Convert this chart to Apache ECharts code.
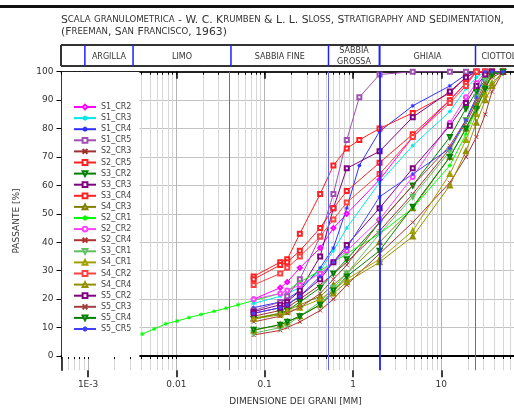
<!DOCTYPE html>
<html>
<head>
<meta charset="utf-8">
<script src="https://cdn.jsdelivr.net/npm/echarts@6/dist/echarts.min.js"></script>
<style>
html, body { margin: 0; padding: 0; background: #fff; }
#chart { width: 514px; height: 411px; }
</style>
</head>
<body>
<div id="chart"></div>
<script>
// aperture dei setacci (mm)
const sieveMm = [0.075, 0.15, 0.18, 0.25, 0.425, 0.6, 0.85, 1.18, 2, 4.75, 12.5, 19, 25, 31.5, 37.5, 50];
// sedimentazione S2_CR1 (mm / %)
const hydroMm = [0.0041, 0.0056, 0.0076, 0.0102, 0.0139, 0.019, 0.0267, 0.0365, 0.05];
const hydroS2CR1 = [7.7, 9.5, 11.3, 12.3, 13.5, 14.6, 15.7, 16.8, 18.0];

// passante [%] per setaccio
const S1_CR2 = [20, 24, 26, 31, 38, 45, 50, null, 62, 77, 90, 96, 100, 100, 100, 100];
const S1_CR3 = [18.5, 21, 22, 24, 30, 37, 45, null, 61, 74, 86, 94, 98, 100, 100, 100];
const S1_CR4 = [17, 19, 20, 23, 31, 38, 52, 67, 79, 88, 95, 99, 100, 100, 100, 100];
const S1_CR5 = [16, 19, 21, 27, 42, 57, 76, 91, 99, 100, 100, 100, 100, 100, 100, 100];
const S2_CR3 = [14, 16, 17, 20, 25, 29, 33, null, 44, 57, 73, 82, 89, 95, 98, 100];
const S2_CR5 = [28, 33, 34, 43, 57, 67, 73, 76, 80, 85.5, 92.5, 98, 100, 100, 100, 100];
const S3_CR2 = [13, 15, 16, 19, 24, 29, 34, null, 47, 60, 77, 87, 93, 97, 100, 100];
const S3_CR3 = [15.6, 18, 19, 23, 35, 52, 66, null, 72, 84, 93, 98, 100, 100, 100, 100];
const S3_CR4 = [27, 32, 33, 37, 45, 52, 58, null, 68, 78, 90, 96, 100, 100, 100, 100];
const S4_CR3 = [13.3, 15, 16, 18, 21, 25, 29, null, 40, 52, 70, 80, 88, 95, 99, 100];
const S2_CR1 = [19.5, 22, 23, 26, 30, 33, 36, null, 43, 52, 67, 78, 87, 94, 99, 100];
const S2_CR2 = [20, 22, 23, 25, 29, 33, 37, null, 48, 63, 82, 91, 96, 100, 100, 100];
const S2_CR4 = [7.4, 9, 10, 12, 16, 20, 25, null, 36, 47, 61, 70, 77, 85, 93, 100];
const S3_CR1 = [8, 10, 11, 14, 19, 24, 29, null, 43, 56, 72, 83, 91, 97, 100, 100];
const S4_CR1 = [13, 14.5, 15.5, 17, 20, 23, 27, null, 34, 44, 64, 76, 85, 92, 96, 100];
const S4_CR2 = [25, 29, 31, 35, 42, 48, 54, null, 64, 77, 89, 95, 100, 100, 100, 100];
const S4_CR4 = [9, 11, 12, 14, 18, 22, 26, null, 33, 42, 60, 72, 82, 90, 95, 100];
const S5_CR2 = [15, 17, 18, 21, 27, 33, 39, null, 52, 66, 81, 89, 95, 99, 100, 100];
const S5_CR3 = [12, 14, 15, 17, 22, 27, 32, null, 47, 60, 74, 83, 90, 96, 100, 100];
const S5_CR4 = [9.2, 11, 12, 14, 18, 23, 28, null, 37, 52.5, 70, 80, 87, 94, 99, 100];
const S5_CR5 = [15, 17, 18, 21, 28, 33, 38, null, 56, 64, 73, 83, 91, 100, 100, 100];

const seriesNames = ['S1_CR2', 'S1_CR3', 'S1_CR4', 'S1_CR5', 'S2_CR3', 'S2_CR5', 'S3_CR2', 'S3_CR3',
  'S3_CR4', 'S4_CR3', 'S2_CR1', 'S2_CR2', 'S2_CR4', 'S3_CR1', 'S4_CR1', 'S4_CR2', 'S4_CR4',
  'S5_CR2', 'S5_CR3', 'S5_CR4', 'S5_CR5'];
const seriesValues = [S1_CR2, S1_CR3, S1_CR4, S1_CR5, S2_CR3, S2_CR5, S3_CR2, S3_CR3,
  S3_CR4, S4_CR3, S2_CR1, S2_CR2, S2_CR4, S3_CR1, S4_CR1, S4_CR2, S4_CR4,
  S5_CR2, S5_CR3, S5_CR4, S5_CR5];

// classi granulometriche (limiti in mm)
const classLimitsMm = [0.00092, 0.00323, 0.0415, 0.528, 2, 24.4];
const classNames = ['ARGILLA', 'LIMO', 'SABBIA FINE', 'SABBIA\nGROSSA', 'GHIAIA', 'CIOTTOLI'];

const xTickValues = [0.001, 0.01, 0.1, 1, 10, 100];
const xTickLabels = ['1E-3', '0.01', '0.1', '1', '10', '100'];
const yTickValues = [0, 10, 20, 30, 40, 50, 60, 70, 80, 90, 100];

// stili
const AST = 'path://M5,0L5,10M0,5L10,5M1.5,1.5L8.5,8.5M8.5,1.5L1.5,8.5';
const CROSS = 'path://M0,0L10,10M10,0L0,10';
const seriesColors = ['#ff00ff', '#00e8e8', '#3030ff', '#a050b0', '#a03030', '#ff2020', '#008000', '#800080',
  '#ff2020', '#808000', '#00ff00', '#ff40ff', '#b03030', '#60c060', '#a0a000', '#ff4040', '#909000',
  '#800080', '#a04040', '#008000', '#4040ff'];
const seriesSymbols = ['emptyDiamond', AST, AST, 'emptyRect', CROSS, 'emptyRect', 'emptyTriangle', 'emptyRect',
  'emptyRect', 'emptyTriangle', AST, 'emptyCircle', CROSS, 'emptyTriangle', 'emptyTriangle', 'emptyRect', 'emptyTriangle',
  'emptyRect', CROSS, 'emptyTriangle', AST];
const seriesRotate = [0, 0, 0, 0, 0, 0, 180, 0, 0, 0, 0, 0, 0, 180, 0, 0, 0, 0, 0, 180, 0];

const FONT = 'DejaVu Sans';

// tacche minori della scala logaritmica
const minorTicks = [];
for (let e = -4; e <= 2; e++) {
  for (let m = 1; m <= 9; m++) {
    const v = +(m * Math.pow(10, e)).toPrecision(6);
    if (v >= 0.0005 && v <= 100) minorTicks.push(v);
  }
}

const chart = echarts.init(document.getElementById('chart'));

const series = seriesNames.map((name, i) => {
  let data = sieveMm.map((d, j) => [d, seriesValues[i][j]]);
  if (name === 'S2_CR1') {
    data = hydroMm.map((d, j) => [d, hydroS2CR1[j]]).concat(data);
  }
  return {
    name: name,
    type: 'line',
    data: data,
    connectNulls: true,
    symbol: seriesSymbols[i],
    symbolRotate: seriesRotate[i],
    symbolSize: 4,
    lineStyle: { width: 1, color: seriesColors[i] },
    itemStyle: { color: seriesColors[i], borderColor: seriesColors[i], borderWidth: 1 },
    emphasis: { disabled: true },
    z: 3
  };
});

// linee blu dei limiti di classe
series.push({
  type: 'line',
  data: [],
  silent: true,
  markLine: {
    symbol: 'none',
    silent: true,
    label: { show: false },
    data: classLimitsMm.map(v => ({
      xAxis: v,
      lineStyle: { color: v === 2 ? '#2020ff' : '#6060ff', width: v === 2 ? 1.8 : 1, type: 'solid' }
    }))
  },
  z: 2
});

const baseX = { type: 'log', min: 0.0005, max: 100, logBase: 10, gridIndex: 0 };

chart.setOption({
  animation: false,
  grid: { left: 61.5, top: 71.7, right: -15.6, bottom: 40.8, containLabel: false, outerBoundsMode: 'none' },
  legend: {
    orient: 'vertical',
    left: 62,
    top: 72,
    data: seriesNames,
    backgroundColor: '#fff',
    padding: [31, 8, 24, 11],
    itemWidth: 22,
    itemHeight: 6,
    itemGap: 3.1,
    textStyle: { fontFamily: FONT, fontSize: 8, lineHeight: 8, color: '#444' },
    z: 5
  },
  xAxis: [
    Object.assign({}, baseX, {
      position: 'bottom',
      axisLine: { show: true, lineStyle: { color: '#000', width: 2 } },
      axisTick: { show: true, customValues: minorTicks, length: 3, lineStyle: { color: '#000' } },
      axisLabel: { show: false },
      splitLine: { show: true, lineStyle: { color: '#d6d6d6', width: 1 } }
    }),
    Object.assign({}, baseX, {
      position: 'bottom',
      name: 'DIMENSIONE DEI GRANI [MM]',
      nameLocation: 'middle',
      nameGap: 27,
      nameTextStyle: { fontFamily: FONT, fontSize: 9, color: '#333' },
      axisLine: { show: false },
      axisTick: { show: true, customValues: xTickValues, length: 7, lineStyle: { color: '#000', width: 1.5 } },
      axisLabel: {
        show: true, customValues: xTickValues, margin: 10,
        fontFamily: FONT, fontSize: 9, color: '#333',
        formatter: v => {
          const k = xTickValues.findIndex(t => Math.abs(Math.log10(t) - Math.log10(v)) < 1e-6);
          return k >= 0 ? xTickLabels[k] : '';
        }
      },
      splitLine: { show: true, lineStyle: { color: '#b4b4b4', width: 1 } }
    }),
    Object.assign({}, baseX, {
      position: 'top',
      axisLine: { show: true, lineStyle: { color: '#222', width: 2 } },
      axisTick: { show: true, inside: true, customValues: minorTicks, length: 3, lineStyle: { color: '#000' } },
      axisLabel: { show: false },
      splitLine: { show: false }
    }),
    Object.assign({}, baseX, {
      position: 'top',
      axisLine: { show: false },
      axisTick: { show: true, inside: true, customValues: xTickValues, length: 7, lineStyle: { color: '#000', width: 1.5 } },
      axisLabel: { show: false },
      splitLine: { show: false }
    })
  ],
  yAxis: {
    type: 'value',
    min: -5,
    max: 100,
    name: 'PASSANTE [%]',
    nameLocation: 'middle',
    nameGap: 40,
    nameRotate: 90,
    nameTextStyle: { fontFamily: FONT, fontSize: 9, color: '#333' },
    axisLine: { show: true, lineStyle: { color: '#000', width: 1.5 } },
    axisTick: { show: true, customValues: yTickValues, length: 5, lineStyle: { color: '#000' } },
    axisLabel: { customValues: yTickValues, margin: 8, fontFamily: FONT, fontSize: 9, color: '#333' },
    splitLine: { show: true, lineStyle: { color: '#c4c4c4', width: 1 } }
  },
  series: series
});

// intestazione: titolo e tabella delle classi
function smallCaps(s) {
  return s.replace(/[a-z]+/g, m => '{s|' + m.toUpperCase() + '}');
}
const capStyle = { fontFamily: FONT, fontSize: 10.8, fill: '#333', rich: { s: { fontFamily: FONT, fontSize: 8.6, fill: '#333' } } };
const boxTop = 45, boxBottom = 66, boxLeft = 61;
const px = classLimitsMm.map(v => chart.convertToPixel({ xAxisIndex: 0 }, v));
const graphic = [
  { type: 'rect', shape: { x: 0, y: 5, width: 514, height: 3 }, style: { fill: '#111' } },
  { type: 'text', x: boxLeft, y: 20, style: Object.assign({ text: smallCaps('Scala granulometrica - W. C. Krumben & L. L. Sloss, Stratigraphy and Sedimentation,'), verticalAlign: 'middle' }, capStyle) },
  { type: 'text', x: boxLeft, y: 32, style: Object.assign({ text: smallCaps('(Freeman, San Francisco, 1963)'), verticalAlign: 'middle' }, capStyle) },
  { type: 'line', shape: { x1: boxLeft, y1: boxTop, x2: 514, y2: boxTop }, style: { stroke: '#333', lineWidth: 2 } },
  { type: 'line', shape: { x1: boxLeft, y1: boxBottom, x2: 514, y2: boxBottom }, style: { stroke: '#333', lineWidth: 2 } },
  { type: 'line', shape: { x1: boxLeft, y1: boxTop, x2: boxLeft, y2: boxBottom }, style: { stroke: '#333', lineWidth: 2 } }
];
px.forEach((x, i) => {
  const last = i + 1 === px.length;
  graphic.push({ type: 'line', shape: { x1: x, y1: boxTop, x2: x, y2: boxBottom },
    style: { stroke: '#2020ff', lineWidth: classLimitsMm[i] === 2 ? 2 : 1.5 } });
  graphic.push({ type: 'text', x: last ? x + 6 : (x + px[i + 1]) / 2, y: (boxTop + boxBottom) / 2 + 1,
    style: { text: classNames[i], fontFamily: FONT, fontSize: 8, fill: '#333',
      align: last ? 'left' : 'center', verticalAlign: 'middle', lineHeight: 11 } });
});
chart.setOption({ graphic: graphic });
</script>
</body>
</html>
